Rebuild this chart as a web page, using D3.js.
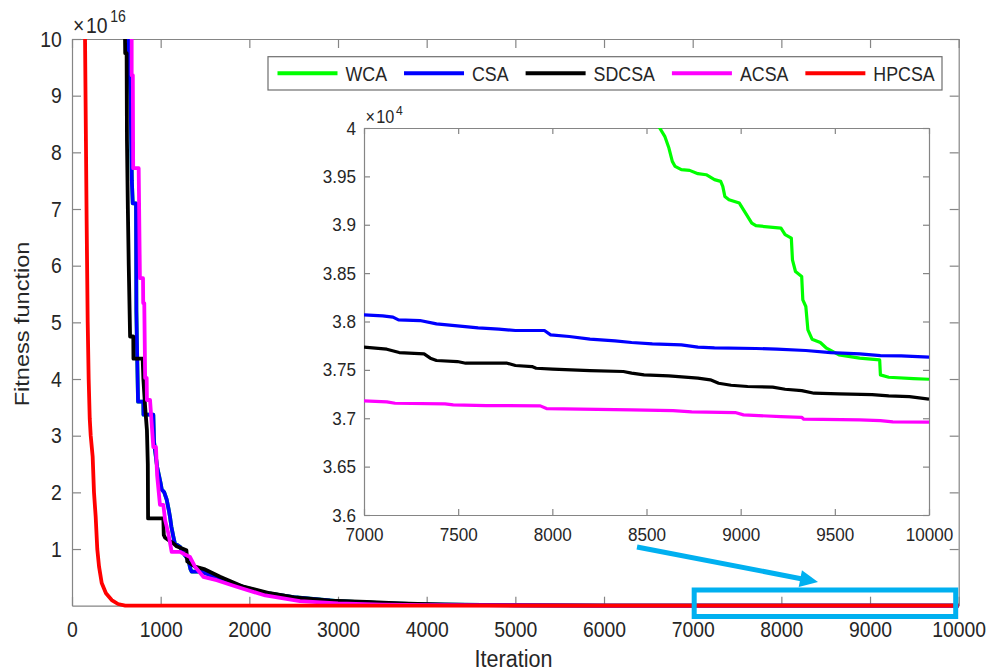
<!DOCTYPE html>
<html><head><meta charset="utf-8">
<script src="https://cdn.jsdelivr.net/npm/d3@7"></script>
<style>
body{margin:0;background:#fff}
svg{display:block;background:#fff}
text{font-family:"Liberation Sans",Arial,Helvetica,sans-serif;fill:#262626}
</style>
</head><body>
<svg id="c" width="987" height="672"></svg>
<script>
// ---------------- DATA ----------------
const seriesNames  = ["WCA", "CSA", "SDCSA", "ACSA", "HPCSA"];
const seriesColors = ["#00ff00", "#0000ff", "#000000", "#ff00ff", "#ff0000"];

const xTicksMain  = [0,1000,2000,3000,4000,5000,6000,7000,8000,9000,10000];
const yTicksMain  = [1e16,2e16,3e16,4e16,5e16,6e16,7e16,8e16,9e16,1e17];
const xTicksInset = [7000,7500,8000,8500,9000,9500,10000];
const yTicksInset = [36000,36500,37000,37500,38000,38500,39000,39500,40000];

// [iteration, fitness]
const wca = [[1,6e17],[600,1.1e17],[637,1.0e17],[660,9.0e16],[675,7.5e16],[685,7.1e16],[722,7.1e16],[726,5.2e16],[735,4.4e16],[745,3.6e16],[804,3.6e16],[806,3.37e16],[917,3.37e16],[925,2.9e16],[936,2.75e16],[960,2.45e16],[1000,2.16e16],[1012,2.05e16],[1040,2.0e16],[1068,1.87e16],[1090,1.7e16],[1105,1.57e16],[1120,1.4e16],[1143,1.22e16],[1160,1.1e16],[1218,1.04e16],[1260,0.92e16],[1312,0.81e16],[1335,0.65e16],[1350,0.6e16],[1463,0.6e16],[1556,0.54e16],[1650,0.48e16],[1800,0.4e16],[2000,0.3e16],[2200,0.22e16],[2500,0.15e16],[3000,0.08e16],[3500,0.045e16],[4000,0.025e16],[5000,9e13],[6000,3e13],
  [7000,46000],[8000,41500],[8500,40300],[8570,40000],[8597,39914],[8619,39793],[8637,39655],[8652,39603],[8685,39569],[8729,39562],[8773,39528],[8817,39517],[8861,39466],[8894,39448],[8905,39397],[8916,39293],[8938,39259],[8993,39224],[9026,39121],[9059,39017],[9081,38990],[9214,38966],[9236,38897],[9269,38862],[9275,38638],[9291,38517],[9324,38466],[9330,38224],[9346,38155],[9357,37914],[9379,37817],[9423,37783],[9456,37724],[9522,37655],[9632,37621],[9738,37603],[9742,37448],[9786,37424],[9918,37410],[10000,37403]];

const csa = [[1,6e17],[600,1.1e17],[637,1.0e17],[660,9.0e16],[675,7.5e16],[685,7.1e16],[722,7.1e16],[726,5.2e16],[735,4.4e16],[745,3.6e16],[804,3.6e16],[806,3.37e16],[917,3.37e16],[925,2.9e16],[936,2.75e16],[960,2.45e16],[1000,2.16e16],[1012,2.05e16],[1040,2.0e16],[1068,1.87e16],[1090,1.7e16],[1105,1.57e16],[1120,1.4e16],[1143,1.22e16],[1160,1.1e16],[1218,1.04e16],[1260,0.92e16],[1312,0.81e16],[1335,0.65e16],[1350,0.6e16],[1463,0.6e16],[1556,0.54e16],[1650,0.48e16],[1800,0.4e16],[2000,0.3e16],[2200,0.22e16],[2500,0.15e16],[3000,0.08e16],[3500,0.045e16],[4000,0.025e16],[5000,0.008e16],[6000,0.002e16],
  [7000,38069],[7099,38059],[7154,38045],[7183,38017],[7297,38010],[7385,37976],[7496,37955],[7606,37935],[7716,37921],[7804,37907],[7958,37907],[7991,37862],[8090,37845],[8200,37817],[8333,37800],[8421,37783],[8531,37769],[8685,37759],[8773,37735],[8861,37728],[9081,37721],[9192,37714],[9346,37700],[9478,37679],[9632,37666],[9742,37648],[9852,37645],[10000,37631]];

const sdcsa = [[1,6e17],[570,1.2e17],[598,1.0e17],[600,9.75e16],[616,9.75e16],[620,8.2e16],[630,7.0e16],[640,6.0e16],[652,5.0e16],[655,4.75e16],[691,4.75e16],[693,4.36e16],[797,4.36e16],[805,4.0e16],[825,3.5e16],[845,3.1e16],[855,2.5e16],[858,1.54e16],[1030,1.54e16],[1035,1.25e16],[1050,1.2e16],[1143,1.1e16],[1180,1.05e16],[1290,0.98e16],[1300,0.78e16],[1387,0.69e16],[1500,0.64e16],[1669,0.51e16],[1932,0.335e16],[2233,0.22e16],[2534,0.14e16],[2910,0.088e16],[3323,0.065e16],[3700,0.04e16],[4200,0.02e16],[5000,0.006e16],[6000,0.002e16],
  [7000,37735],[7121,37714],[7187,37679],[7319,37666],[7352,37621],[7385,37597],[7496,37586],[7540,37569],[7760,37569],[7804,37545],[7892,37534],[7914,37517],[8002,37507],[8200,37493],[8377,37483],[8421,37466],[8487,37448],[8619,37438],[8773,37414],[8839,37397],[8883,37362],[8949,37341],[9037,37328],[9170,37321],[9236,37300],[9324,37286],[9390,37259],[9522,37252],[9698,37245],[9786,37231],[9896,37224],[10000,37197]];

const acsa = [[1,6e17],[640,1.2e17],[673,1.0e17],[673,9.36e16],[686,9.36e16],[690,7.72e16],[752,7.72e16],[766,5.78e16],[801,5.78e16],[803,5.34e16],[815,5.34e16],[825,4.02e16],[842,4.02e16],[845,3.63e16],[880,3.63e16],[917,2.8e16],[947,2.8e16],[960,2.3e16],[992,1.78e16],[1030,1.78e16],[1050,1.51e16],[1086,1.28e16],[1124,0.95e16],[1218,0.95e16],[1330,0.86e16],[1387,0.69e16],[1481,0.51e16],[1632,0.45e16],[1857,0.335e16],[2180,0.18e16],[2571,0.08e16],[3000,0.04e16],[3500,0.02e16],[4000,0.01e16],[5000,0.004e16],[6000,0.001e16],
  [7000,37179],[7121,37169],[7165,37155],[7430,37148],[7474,37138],[7650,37131],[7936,37128],[7969,37100],[8421,37086],[8641,37079],[8740,37066],[8971,37059],[9015,37035],[9213,37017],[9324,37010],[9335,36990],[9632,36983],[9742,36976],[9808,36962],[10000,36959]];

const hpcsa = [[1,5e17],[120,1.5e17],[147,1.0e17],[165,6.8e16],[177,5.0e16],[188,4.0e16],[200,3.3e16],[211,3.0e16],[233,2.63e16],[248,2.0e16],[267,1.57e16],[285,1.0e16],[305,0.69e16],[335,0.4e16],[383,0.22e16],[448,0.1e16],[519,0.03e16],[600,0.003e16],[700,36200],[10000,36200]];

const allSeries = [wca, csa, sdcsa, acsa, hpcsa];

// ---------------- DRAW ----------------
const svg = d3.select("#c");
const AX = "#858585";
const SX = 0.88;
const FF = '"Liberation Sans",Arial,Helvetica,sans-serif';

function condense(g, sx){
  g.selectAll(".tick text").each(function(){
    const t = d3.select(this);
    const x = +t.attr("x") || 0;
    t.attr("x", x/sx).attr("transform", `scale(${sx},1)`);
  });
}
function styleAxis(g, fs){
  g.selectAll("path.domain").attr("stroke", AX).attr("stroke-width", 1.2);
  g.selectAll(".tick line").attr("stroke", AX).attr("stroke-width", 1.2);
  g.selectAll(".tick text").style("font-size", fs+"px").attr("fill", "#262626")
    .style("font-family", FF);
}

// main plot area
const M = {l:72, r:958.7, t:39, b:605.7};
const xM = d3.scaleLinear().domain([0,10000]).range([M.l, M.r]);
const yM = d3.scaleLinear().domain([0,1e17]).range([M.b, M.t]);

const gxB = svg.append("g").attr("transform",`translate(0,${M.b})`)
  .call(d3.axisBottom(xM).tickValues(xTicksMain).tickFormat(d3.format("d")).tickSizeInner(-9).tickSizeOuter(0).tickPadding(15.5));
styleAxis(gxB, 22); condense(gxB, SX);
const gxT = svg.append("g").attr("transform",`translate(0,${M.t})`)
  .call(d3.axisTop(xM).tickValues(xTicksMain).tickFormat("").tickSizeInner(-9).tickSizeOuter(0));
styleAxis(gxT, 22);
const gyL = svg.append("g").attr("transform",`translate(${M.l},0)`)
  .call(d3.axisLeft(yM).tickValues(yTicksMain).tickFormat(d => d3.format("d")(d/1e16)).tickSizeInner(-9).tickSizeOuter(0).tickPadding(10.3));
styleAxis(gyL, 22); condense(gyL, SX);
const gyR = svg.append("g").attr("transform",`translate(${M.r},0)`)
  .call(d3.axisRight(yM).tickValues(yTicksMain).tickFormat("").tickSizeInner(-9).tickSizeOuter(0));
styleAxis(gyR, 22);

// exponent label (×10^16)
const e16 = svg.append("text").attr("transform",`translate(73,33) scale(${SX},1)`)
  .style("font-size","22px").style("font-family",FF);
e16.append("tspan").style("font-size","22px").text("×");
e16.append("tspan").style("font-size","22px").attr("dx",2).text("10");
e16.append("tspan").style("font-size","16px").attr("dx",3).attr("dy",-11.5).text("16");

// axis titles
svg.append("text").attr("transform",`translate(513.5,667) scale(${SX},1)`)
  .attr("text-anchor","middle").style("font-size","24.5px").text("Iteration");
svg.append("text").attr("transform",`translate(28.5,324) rotate(-90) scale(1,${SX})`)
  .attr("text-anchor","middle").style("font-size","23.5px").text("Fitness function");

// clip + main lines
const defs = svg.append("defs");
defs.append("clipPath").attr("id","clipMain").append("rect")
  .attr("x",M.l).attr("y",M.t).attr("width",M.r-M.l).attr("height",M.b-M.t+3);
const lineM = d3.line().x(d=>xM(d[0])).y(d=>yM(d[1]));
const gm = svg.append("g").attr("clip-path","url(#clipMain)");
allSeries.forEach((s,i)=>{
  gm.append("path").attr("d",lineM(s)).attr("fill","none")
    .attr("stroke",seriesColors[i]).attr("stroke-width",3.8)
    .attr("stroke-linejoin","round");
});

// ---------------- INSET ----------------
const I = {l:364, r:929, t:128, b:515};
const xI = d3.scaleLinear().domain([7000,10000]).range([I.l, I.r]);
const yI = d3.scaleLinear().domain([36000,40000]).range([I.b, I.t]);
svg.append("rect").attr("x",I.l).attr("y",I.t).attr("width",I.r-I.l).attr("height",I.b-I.t).attr("fill","#fff");

const ixB = svg.append("g").attr("transform",`translate(0,${I.b})`)
  .call(d3.axisBottom(xI).tickValues(xTicksInset).tickFormat(d3.format("d")).tickSizeInner(-6).tickSizeOuter(0).tickPadding(13));
styleAxis(ixB, 19); condense(ixB, 0.9);
const ixT = svg.append("g").attr("transform",`translate(0,${I.t})`)
  .call(d3.axisTop(xI).tickValues(xTicksInset).tickFormat("").tickSizeInner(-6).tickSizeOuter(0));
styleAxis(ixT, 19);
const iyL = svg.append("g").attr("transform",`translate(${I.l},0)`)
  .call(d3.axisLeft(yI).tickValues(yTicksInset).tickFormat(d => String(+(d/1e4).toFixed(2))).tickSizeInner(-6).tickSizeOuter(0).tickPadding(8));
styleAxis(iyL, 19); condense(iyL, 0.9);
const iyR = svg.append("g").attr("transform",`translate(${I.r},0)`)
  .call(d3.axisRight(yI).tickValues(yTicksInset).tickFormat("").tickSizeInner(-6).tickSizeOuter(0));
styleAxis(iyR, 19);

const e4 = svg.append("text").attr("transform",`translate(365.5,123) scale(0.9,1)`)
  .style("font-size","18px").style("font-family",FF);
e4.append("tspan").style("font-size","18px").text("×");
e4.append("tspan").style("font-size","18px").attr("dx",1.5).text("10");
e4.append("tspan").style("font-size","13.5px").attr("dx",2).attr("dy",-8.5).text("4");

defs.append("clipPath").attr("id","clipInset").append("rect")
  .attr("x",I.l).attr("y",I.t).attr("width",I.r-I.l).attr("height",I.b-I.t);
const lineI = d3.line().x(d=>xI(d[0])).y(d=>yI(d[1]));
const gi = svg.append("g").attr("clip-path","url(#clipInset)");
allSeries.forEach((s,i)=>{
  gi.append("path").attr("d",lineI(s.filter(d=>d[0]>=7000))).attr("fill","none")
    .attr("stroke",seriesColors[i]).attr("stroke-width",3.2)
    .attr("stroke-linejoin","round");
});

// ---------------- LEGEND ----------------
const L = {x:268, y:56.7, w:674, h:33.3};
const gl = svg.append("g");
gl.append("rect").attr("x",L.x).attr("y",L.y).attr("width",L.w).attr("height",L.h)
  .attr("fill","#fff").attr("stroke","#6e6e6e").attr("stroke-width",1.2);
let lx = L.x + 9.5;
const ly = L.y + L.h/2;
seriesNames.forEach((n,i)=>{
  gl.append("line").attr("x1",lx).attr("x2",lx+60).attr("y1",ly).attr("y2",ly)
    .attr("stroke",seriesColors[i]).attr("stroke-width",4);
  const t = gl.append("text").attr("transform",`translate(${lx+68},${ly+7.5}) scale(0.89,1)`)
    .style("font-size","20px").text(n);
  const w = t.node().getComputedTextLength()*0.89;
  lx += 68 + w + 17;
});

// ---------------- ANNOTATIONS ----------------
const AC = "#00b0f0";
const a0 = [637,547], tip = [818,582];
const dx = tip[0]-a0[0], dy = tip[1]-a0[1], len = Math.hypot(dx,dy);
const ux = dx/len, uy = dy/len, nx = -uy, ny = ux;
const hl = 18, hw = 8.5;
const base = [tip[0]-hl*ux, tip[1]-hl*uy];
svg.append("line").attr("x1",a0[0]).attr("y1",a0[1]).attr("x2",base[0]+2*ux).attr("y2",base[1]+2*uy)
  .attr("stroke",AC).attr("stroke-width",5);
svg.append("path").attr("d",`M${tip[0]},${tip[1]}L${base[0]+hw*nx},${base[1]+hw*ny}L${base[0]-hw*nx},${base[1]-hw*ny}Z`)
  .attr("fill",AC);
svg.append("rect").attr("x",xM(7000)+1.5).attr("y",yM(0)-15.7)
  .attr("width",xM(10000)-xM(7000)-4.5).attr("height",26.5)
  .attr("fill","none").attr("stroke",AC).attr("stroke-width",5);
</script>
</body></html>
